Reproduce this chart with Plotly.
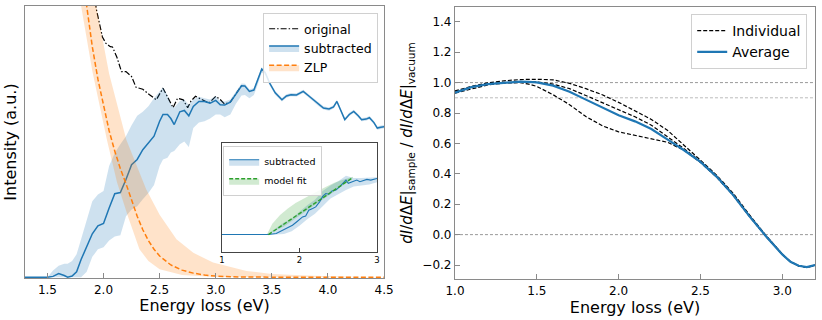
import plotly.graph_objects as go

# ---- left panel: spectrum (normalised intensity) ----
e_sub = [1.30, 1.50, 1.55, 1.60, 1.65, 1.68, 1.72, 1.76, 1.80, 1.85, 1.90, 1.95, 2.00,
         2.05, 2.10, 2.15, 2.20, 2.25, 2.30, 2.35, 2.40, 2.45, 2.50, 2.53, 2.57, 2.60,
         2.63, 2.68, 2.72, 2.76, 2.80, 2.85, 2.90, 2.95, 3.00, 3.04, 3.08, 3.13, 3.18,
         3.23, 3.26, 3.30, 3.34, 3.37, 3.41, 3.44, 3.48, 3.53, 3.59, 3.63, 3.67, 3.72,
         3.78, 3.83, 3.87, 3.92, 3.96, 4.01, 4.05, 4.08, 4.11, 4.15, 4.19, 4.23, 4.27,
         4.30, 4.34, 4.37, 4.41, 4.44, 4.47, 4.50]
sub = [0.0, 0.0, 0.003, 0.013, 0.006, 0.0, 0.004, 0.02, 0.065, 0.11, 0.16, 0.189, 0.198,
       0.255, 0.308, 0.312, 0.36, 0.415, 0.434, 0.47, 0.495, 0.52, 0.575, 0.60, 0.60, 0.585,
       0.563, 0.61, 0.615, 0.595, 0.63, 0.648, 0.648, 0.642, 0.652, 0.636, 0.635, 0.645, 0.675,
       0.706, 0.705, 0.685, 0.69, 0.72, 0.767, 0.755, 0.716, 0.68, 0.654, 0.668, 0.673, 0.672,
       0.685, 0.668, 0.654, 0.635, 0.624, 0.62, 0.628, 0.648, 0.62, 0.581, 0.60, 0.611, 0.595,
       0.581, 0.583, 0.588, 0.57, 0.55, 0.553, 0.555]
sub_lo = [0.0, 0.0, 0.0, 0.0, 0.0, 0.0, 0.0, 0.0, 0.0, 0.02, 0.075, 0.103, 0.11,
          0.135, 0.15, 0.155, 0.225, 0.25, 0.262, 0.287, 0.31, 0.34, 0.41, 0.434, 0.44, 0.46,
          0.465, 0.49, 0.50, 0.48, 0.55, 0.57, 0.575, 0.585, 0.60, 0.60, 0.59, 0.60, 0.64,
          0.67, 0.672, 0.66, 0.672, 0.705, 0.755, 0.745, 0.708, 0.673, 0.648, 0.662, 0.667, 0.666,
          0.679, 0.662, 0.648, 0.629, 0.618, 0.614, 0.622, 0.642, 0.614, 0.575, 0.594, 0.605, 0.589,
          0.575, 0.577, 0.582, 0.564, 0.544, 0.547, 0.549]
sub_hi = [0.0, 0.0, 0.025, 0.042, 0.05, 0.05, 0.06, 0.085, 0.14, 0.21, 0.28, 0.305, 0.318,
          0.41, 0.458, 0.49, 0.52, 0.56, 0.595, 0.61, 0.63, 0.66, 0.685, 0.70, 0.67, 0.635,
          0.625, 0.65, 0.655, 0.635, 0.655, 0.665, 0.66, 0.655, 0.668, 0.65, 0.648, 0.655, 0.685,
          0.714, 0.713, 0.693, 0.697, 0.727, 0.774, 0.762, 0.723, 0.687, 0.661, 0.675, 0.679, 0.678,
          0.691, 0.674, 0.660, 0.641, 0.630, 0.626, 0.634, 0.654, 0.626, 0.587, 0.606, 0.617, 0.601,
          0.587, 0.589, 0.594, 0.576, 0.556, 0.559, 0.561]

e_orig = [1.90, 1.935, 1.99, 2.02, 2.06, 2.08, 2.12, 2.16, 2.20, 2.25, 2.29, 2.35, 2.41,
          2.47, 2.53, 2.57, 2.62, 2.66, 2.71, 2.75, 2.78, 2.82, 2.88, 2.94, 3.00, 3.04,
          3.08, 3.13, 3.18, 3.23]
orig = [1.10, 0.99, 0.886, 0.863, 0.85, 0.849, 0.81, 0.758, 0.758, 0.74, 0.70, 0.693, 0.673,
        0.654, 0.697, 0.667, 0.625, 0.66, 0.654, 0.625, 0.65, 0.667, 0.654, 0.642, 0.667, 0.655,
        0.638, 0.646, 0.676, 0.706]

e_zlp = [1.80, 1.85, 1.90, 1.95, 2.00, 2.05, 2.10, 2.15, 2.20, 2.25, 2.30, 2.35, 2.40,
         2.45, 2.50, 2.60, 2.70, 2.80, 2.90, 3.00, 3.20, 3.50, 4.00, 4.50]
zlp = [1.15, 1.0, 0.85, 0.73, 0.63, 0.54, 0.465, 0.40, 0.345, 0.285, 0.225, 0.175, 0.135,
       0.103, 0.078, 0.045, 0.026, 0.015, 0.008, 0.004, 0.001, 0.0, 0.0, 0.0]
e_zlp_lo = [1.78, 1.80, 1.90, 2.03, 2.12, 2.217, 2.32, 2.40, 2.50, 2.70, 3.00, 3.50, 4.50]
zlp_lo = [1.05, 1.0, 0.76, 0.507, 0.35, 0.225, 0.103, 0.06, 0.029, 0.008, 0.001, 0.0, 0.0]
e_zlp_hi = [1.93, 1.935, 2.05, 2.203, 2.38, 2.50, 2.65, 2.80, 2.976, 3.274, 3.50, 3.87, 4.20, 4.50]
zlp_hi = [1.02, 1.0, 0.75, 0.507, 0.324, 0.23, 0.14, 0.09, 0.054, 0.023, 0.012, 0.005, 0.002, 0.001]

# ---- inset ----
e_in = [1.0, 1.6, 1.7, 1.78, 1.85, 1.91, 1.97, 2.04, 2.08, 2.12, 2.17, 2.21, 2.26, 2.30,
        2.34, 2.38, 2.42, 2.47, 2.52, 2.57, 2.60, 2.63, 2.69, 2.74, 2.78, 2.83, 2.87, 2.92,
        2.96, 3.0]
sub_in = [0.16, 0.16, 0.17, 0.20, 0.22, 0.245, 0.28, 0.322, 0.33, 0.384, 0.40, 0.414, 0.46,
          0.51, 0.537, 0.53, 0.56, 0.568, 0.60, 0.64, 0.66, 0.63, 0.644, 0.66, 0.645, 0.655,
          0.666, 0.66, 0.67, 0.675]
e_in_band = [1.55, 1.6, 1.7, 1.8, 1.9, 2.0, 2.1, 2.2, 2.3, 2.4, 2.5, 2.6, 2.7, 2.8, 2.9, 3.0]
sub_in_lo = [0.16, 0.16, 0.16, 0.165, 0.19, 0.24, 0.30, 0.35, 0.42, 0.49, 0.53, 0.57, 0.60,
             0.61, 0.62, 0.64]
sub_in_hi = [0.16, 0.17, 0.22, 0.27, 0.31, 0.37, 0.43, 0.48, 0.56, 0.61, 0.65, 0.70, 0.68,
             0.68, 0.68, 0.685]
e_fit = [1.60, 2.69]
fit = [0.16, 0.684]
e_fit_hi = [1.58, 1.65, 1.75, 1.85, 1.95, 2.05, 2.15, 2.25, 2.35, 2.45, 2.55, 2.65, 2.69]
fit_hi = [0.16, 0.26, 0.34, 0.40, 0.45, 0.49, 0.53, 0.565, 0.60, 0.635, 0.66, 0.685, 0.69]
e_fit_lo = [1.58, 1.8, 2.0, 2.2, 2.4, 2.6, 2.69]
fit_lo = [0.16, 0.235, 0.33, 0.43, 0.53, 0.63, 0.68]

# ---- right panel: ratio ----
e_ratio = [1.0, 1.1, 1.2, 1.3, 1.4, 1.45, 1.5, 1.6, 1.7, 1.8, 1.9, 2.0, 2.1, 2.2, 2.3, 2.4,
           2.5, 2.6, 2.7, 2.8, 2.9, 3.0, 3.05, 3.1, 3.15, 3.18, 3.2]
avg = [0.933, 0.97, 0.99, 1.0, 1.006, 1.005, 1.002, 0.98, 0.94, 0.888, 0.835, 0.785, 0.745,
       0.695, 0.625, 0.555, 0.478, 0.38, 0.26, 0.12, -0.01, -0.13, -0.178, -0.205, -0.214,
       -0.208, -0.20]
ind_a = [0.945, 0.975, 0.998, 1.012, 1.02, 1.022, 1.022, 1.018, 0.995, 0.96, 0.92, 0.87, 0.815,
         0.758, 0.685, 0.59, 0.49, 0.39, 0.272, 0.13, -0.005, -0.128, -0.177, -0.204, -0.213,
         -0.207, -0.20]
ind_b = [0.938, 0.97, 0.99, 1.0, 1.005, 1.006, 1.005, 0.99, 0.96, 0.915, 0.868, 0.82, 0.775,
         0.72, 0.645, 0.565, 0.482, 0.384, 0.264, 0.123, -0.008, -0.129, -0.178, -0.205, -0.214,
         -0.208, -0.20]
ind_c = [0.93, 0.96, 0.985, 0.997, 1.0, 0.99, 0.975, 0.92, 0.855, 0.777, 0.716, 0.676, 0.652,
         0.632, 0.607, 0.555, 0.475, 0.377, 0.258, 0.118, -0.012, -0.131, -0.179, -0.206, -0.215,
         -0.209, -0.201]
ref_levels = [1.0, 0.9, 0.0]

BLUE = "#1f77b4"
ORANGE = "#ff7f0e"
GREEN = "#2ca02c"
SPINE = "#8a8a8a"

fig = go.Figure()

# left panel
fig.add_trace(go.Scatter(x=e_orig, y=orig, mode="lines", name="original",
                         line=dict(color="black", width=1.2, dash="6px,2px,1.5px,2px"),
                         xaxis="x", yaxis="y", legend="legend"))
fig.add_trace(go.Scatter(x=e_sub + e_sub[::-1], y=sub_hi + sub_lo[::-1], mode="lines",
                         fill="toself", fillcolor="rgba(31,119,180,0.22)", line=dict(width=0),
                         showlegend=False, hoverinfo="skip", xaxis="x", yaxis="y"))
fig.add_trace(go.Scatter(x=e_sub, y=sub, mode="lines", line=dict(width=0, color=BLUE),
                         showlegend=False, hoverinfo="skip", xaxis="x", yaxis="y"))
fig.add_trace(go.Scatter(x=e_sub, y=sub, mode="lines", name="subtracted", fill="tonexty",
                         fillcolor="rgba(31,119,180,0.22)", line=dict(color=BLUE, width=1.5),
                         xaxis="x", yaxis="y", legend="legend"))
fig.add_trace(go.Scatter(x=e_zlp_hi + e_zlp_lo[::-1], y=zlp_hi + zlp_lo[::-1], mode="lines",
                         fill="toself", fillcolor="rgba(255,127,14,0.22)", line=dict(width=0),
                         showlegend=False, hoverinfo="skip", xaxis="x", yaxis="y"))
fig.add_trace(go.Scatter(x=e_zlp, y=zlp, mode="lines", line=dict(width=0, color=ORANGE),
                         showlegend=False, hoverinfo="skip", xaxis="x", yaxis="y"))
fig.add_trace(go.Scatter(x=e_zlp, y=zlp, mode="lines", name="ZLP", fill="tonexty",
                         fillcolor="rgba(255,127,14,0.22)",
                         line=dict(color=ORANGE, width=1.5, dash="5px,2.5px"),
                         xaxis="x", yaxis="y", legend="legend"))

# inset
fig.add_trace(go.Scatter(x=e_in_band + e_in_band[::-1], y=sub_in_hi + sub_in_lo[::-1],
                         mode="lines", fill="toself", fillcolor="rgba(31,119,180,0.22)",
                         line=dict(width=0), showlegend=False, hoverinfo="skip",
                         xaxis="x3", yaxis="y3"))
fig.add_trace(go.Scatter(x=e_fit_hi + e_fit_lo[::-1], y=fit_hi + fit_lo[::-1],
                         mode="lines", fill="toself", fillcolor="rgba(44,160,44,0.22)",
                         line=dict(width=0), showlegend=False, hoverinfo="skip",
                         xaxis="x3", yaxis="y3"))
fig.add_trace(go.Scatter(x=e_in, y=sub_in, mode="lines", line=dict(width=0, color=BLUE),
                         showlegend=False, hoverinfo="skip", xaxis="x3", yaxis="y3"))
fig.add_trace(go.Scatter(x=e_in, y=sub_in, mode="lines", name="subtracted", fill="tonexty",
                         fillcolor="rgba(31,119,180,0.22)", line=dict(color=BLUE, width=1.1),
                         xaxis="x3", yaxis="y3", legend="legend3"))
fig.add_trace(go.Scatter(x=e_fit, y=fit, mode="lines", line=dict(width=0, color=GREEN),
                         showlegend=False, hoverinfo="skip", xaxis="x3", yaxis="y3"))
fig.add_trace(go.Scatter(x=e_fit, y=fit, mode="lines", name="model fit", fill="tonexty",
                         fillcolor="rgba(44,160,44,0.22)",
                         line=dict(color=GREEN, width=1.4, dash="4px,2px"),
                         xaxis="x3", yaxis="y3", legend="legend3"))

# right panel
for i, ys in enumerate([ind_a, ind_b, ind_c]):
    fig.add_trace(go.Scatter(x=e_ratio, y=ys, mode="lines", name="Individual",
                             showlegend=(i == 0), legendgroup="ind",
                             line=dict(color="black", width=1.2, dash="4px,2px"),
                             xaxis="x2", yaxis="y2", legend="legend2"))
fig.add_trace(go.Scatter(x=e_ratio, y=avg, mode="lines", name="Average",
                         line=dict(color=BLUE, width=2.2),
                         xaxis="x2", yaxis="y2", legend="legend2"))

shapes = []
for lv in ref_levels:
    shapes.append(dict(type="line", xref="x2 domain", yref="y2", x0=0, x1=1, y0=lv, y1=lv,
                       line=dict(color="#bbbbbb" if lv == 0.9 else "#999999", width=1,
                                 dash="3px,2px"), layer="below"))

axis_common = dict(showline=True, mirror=True, linecolor=SPINE, linewidth=1.2,
                   ticks="inside", ticklen=5, tickcolor=SPINE, showgrid=False,
                   zeroline=False, tickfont=dict(size=12, color="black"))

fig.update_layout(
    width=822, height=320,
    margin=dict(l=0, r=0, t=0, b=0, autoexpand=False),
    paper_bgcolor="white", plot_bgcolor="white",
    font=dict(family="DejaVu Sans", color="black"),
    shapes=shapes,
    xaxis=dict(axis_common, domain=[0.0304, 0.4672], range=[1.3, 4.5],
               tickvals=[1.5, 2.0, 2.5, 3.0, 3.5, 4.0, 4.5], tickformat=".1f",
               title=dict(text="Energy loss (eV)", font=dict(size=16), standoff=2),
               anchor="y"),
    yaxis=dict(axis_common, domain=[0.13125, 0.98125], range=[-0.003, 1.0],
               showticklabels=False, ticks="",
               title=dict(text="Intensity (a.u.)", font=dict(size=16), standoff=3),
               anchor="x"),
    xaxis2=dict(axis_common, domain=[0.5535, 0.9915], range=[1.0, 3.2],
                tickvals=[1.0, 1.5, 2.0, 2.5, 3.0], tickformat=".1f",
                title=dict(text="Energy loss (eV)", font=dict(size=16), standoff=2),
                anchor="y2"),
    yaxis2=dict(axis_common, domain=[0.128, 0.978], range=[-0.292, 1.497],
                tickvals=[-0.2, 0.0, 0.2, 0.4, 0.6, 0.8, 1.0, 1.2, 1.4], tickformat=".1f",
                title=dict(text="<i>dI</i>/<i>d</i>Δ<i>E</i>|<sub>sample</sub> / "
                                "<i>dI</i>/<i>d</i>Δ<i>E</i>|<sub>vacuum</sub>",
                           font=dict(size=15), standoff=6),
                anchor="x2"),
    xaxis3=dict(axis_common, domain=[0.270, 0.4586], range=[1.0, 3.0],
                tickvals=[1, 2, 3], linecolor="#444444", tickcolor="#444444",
                tickfont=dict(size=8.5, color="black"), ticklen=4, anchor="y3"),
    yaxis3=dict(axis_common, domain=[0.2125, 0.553], range=[0.0, 1.0],
                showticklabels=False, ticks="", linecolor="#444444", anchor="x3"),
    legend=dict(x=0.46, y=0.959, xanchor="right", yanchor="top", traceorder="normal",
                bgcolor="rgba(255,255,255,0.85)", bordercolor="#d0d0d0", borderwidth=1,
                font=dict(size=12.5), tracegroupgap=0, itemwidth=30),
    legend2=dict(x=0.982, y=0.956, xanchor="right", yanchor="top", traceorder="normal",
                 bgcolor="rgba(255,255,255,0.85)", bordercolor="#d0d0d0", borderwidth=1,
                 font=dict(size=14), tracegroupgap=4, itemwidth=30),
    legend3=dict(x=0.2715, y=0.543, xanchor="left", yanchor="top", traceorder="normal",
                 bgcolor="rgba(255,255,255,0.85)", bordercolor="#d0d0d0", borderwidth=1,
                 font=dict(size=9.5), tracegroupgap=0, itemwidth=30),
)

# drop the default 8px page margin so the figure sits at the window origin
fig.write_html("out.html", config={"displayModeBar": False},
               post_script="document.body.style.margin='0';")
